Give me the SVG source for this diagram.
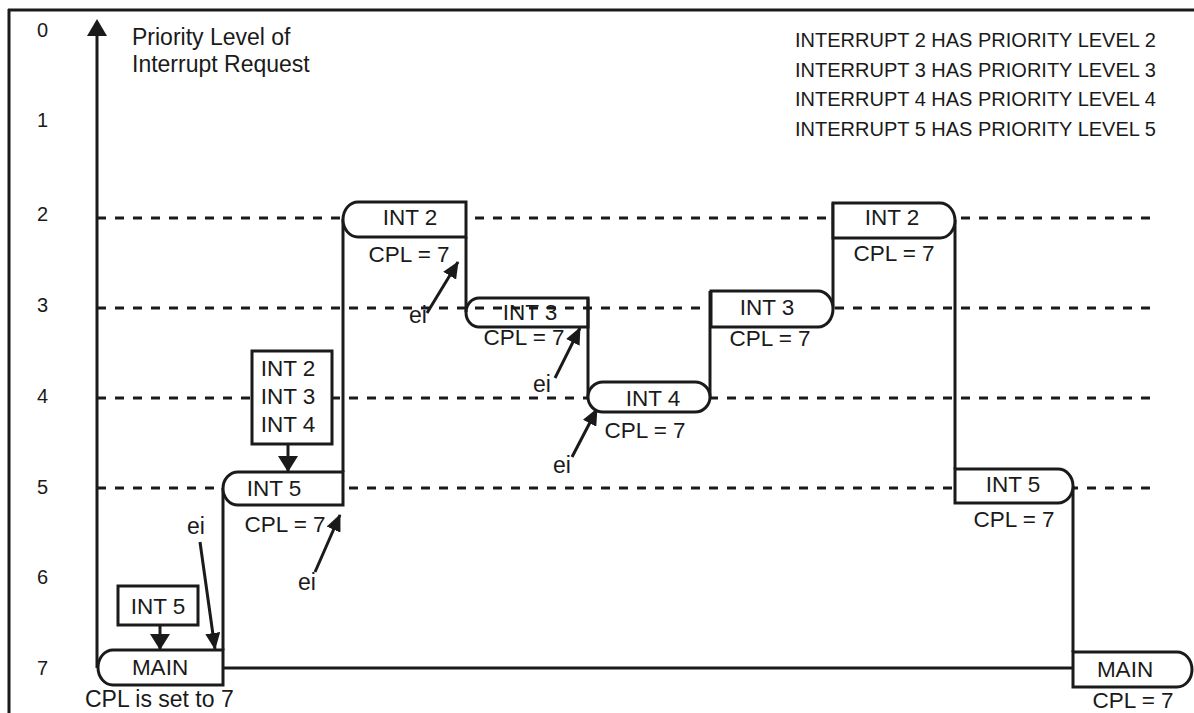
<svg xmlns="http://www.w3.org/2000/svg" width="1194" height="713" viewBox="0 0 1194 713">
<style>
text{font-family:"Liberation Sans",Arial,sans-serif;fill:#1a1a1a}
.t{font-size:23px}
.c{font-size:22.5px;text-anchor:middle}
.lv{font-size:20px}
.lg{font-size:20px}
.box{fill:#fff;stroke:#1a1a1a;stroke-width:3}
.nofill{fill:none;stroke:#1a1a1a;stroke-width:3}
.ln{stroke:#1a1a1a;stroke-width:3;fill:none}
.dash{stroke:#1a1a1a;stroke-width:3;stroke-dasharray:9 9;fill:none}
.arr{stroke:#1a1a1a;stroke-width:3;fill:none}
</style>
<defs>
<marker id="ah" viewBox="0 0 16 20" refX="15" refY="10" markerWidth="16" markerHeight="20" markerUnits="userSpaceOnUse" orient="auto">
<path d="M0,0 L16,10 L0,20 Z" fill="#1a1a1a"/>
</marker>
<marker id="ahs" viewBox="0 0 17 15" refX="16" refY="7.5" markerWidth="17" markerHeight="15" markerUnits="userSpaceOnUse" orient="auto">
<path d="M0,0 L17,7.5 L0,15 Z" fill="#1a1a1a"/>
</marker>
</defs>

<g id="frame">
<line class="ln" x1="8" y1="10" x2="1194" y2="10"/>
<line class="ln" x1="9" y1="9" x2="9" y2="713"/>
</g>

<g id="axis">
<line class="ln" x1="97" y1="34" x2="97" y2="668"/>
<polygon points="97,19 87,36 107,36" fill="#1a1a1a"/>
<text class="t" x="132" y="45">Priority Level of</text>
<text class="t" x="132" y="72">Interrupt Request</text>
<text class="lv" x="37" y="37">0</text>
<text class="lv" x="37" y="127">1</text>
<text class="lv" x="37" y="221">2</text>
<text class="lv" x="37" y="312">3</text>
<text class="lv" x="37" y="403">4</text>
<text class="lv" x="37" y="494">5</text>
<text class="lv" x="37" y="584">6</text>
<text class="lv" x="37" y="675">7</text>
</g>

<g id="legend">
<text class="lg" x="795" y="47">INTERRUPT 2 HAS PRIORITY LEVEL 2</text>
<text class="lg" x="795" y="77">INTERRUPT 3 HAS PRIORITY LEVEL 3</text>
<text class="lg" x="795" y="106">INTERRUPT 4 HAS PRIORITY LEVEL 4</text>
<text class="lg" x="795" y="136">INTERRUPT 5 HAS PRIORITY LEVEL 5</text>
</g>

<g id="levels">
<line class="dash" x1="97" y1="218" x2="1152" y2="218"/>
<line class="dash" x1="97" y1="308" x2="1152" y2="308"/>
<line class="dash" x1="97" y1="398" x2="1152" y2="398"/>
<line class="dash" x1="97" y1="488" x2="1152" y2="488"/>
</g>

<g id="connectors">
<line class="ln" x1="223" y1="668" x2="1073" y2="668"/>
<line class="ln" x1="223" y1="650" x2="223" y2="488"/>
<line class="ln" x1="343" y1="472" x2="343" y2="219"/>
<line class="ln" x1="466" y1="237" x2="466" y2="312"/>
<line class="ln" x1="588" y1="298" x2="588" y2="397"/>
<line class="ln" x1="710" y1="397" x2="710" y2="291"/>
<line class="ln" x1="833" y1="309" x2="833" y2="203"/>
<line class="ln" x1="955" y1="220" x2="955" y2="469"/>
<line class="ln" x1="1073" y1="486" x2="1073" y2="652"/>
<line class="arr" x1="160" y1="625" x2="160" y2="649" marker-end="url(#ah)"/>
<line class="arr" x1="288" y1="444" x2="288" y2="471" marker-end="url(#ah)"/>
<line class="arr" x1="200" y1="542" x2="215" y2="649" marker-end="url(#ahs)"/>
<line class="arr" x1="315" y1="572" x2="340" y2="515" marker-end="url(#ahs)"/>
<line class="arr" x1="427" y1="313" x2="458" y2="262" marker-end="url(#ahs)"/>
<line class="arr" x1="555" y1="378" x2="580" y2="328" marker-end="url(#ahs)"/>
<line class="arr" x1="572" y1="457" x2="597" y2="409" marker-end="url(#ahs)"/>
</g>

<g id="main-left">
<path class="box" d="M113,650 H223 V685 H113 A15 17.5 0 0 1 98,667.5 A15 17.5 0 0 1 113,650 Z"/>
<text class="c" x="160" y="675">MAIN</text>
<text class="t" x="85" y="707">CPL is set to 7</text>
</g>

<g id="int5-pending">
<rect class="box" x="118" y="586" width="80" height="39"/>
<text class="c" x="158" y="614">INT 5</text>
</g>

<g id="int5-left">
<path class="box" d="M238,472 H343 V505 H238 A15 16.5 0 0 1 223,488.5 A15 16.5 0 0 1 238,472 Z"/>
<text class="c" x="274" y="496">INT 5</text>
<text class="c" x="285" y="532">CPL = 7</text>
</g>

<g id="int234-pending">
<rect class="box" x="252" y="351" width="80" height="93"/>
<text class="c" x="288" y="376">INT 2</text>
<text class="c" x="288" y="404">INT 3</text>
<text class="c" x="288" y="432">INT 4</text>
</g>

<g id="int2-left">
<path class="box" d="M358,202 H466 V237 H358 A15 17.5 0 0 1 343,219.5 A15 17.5 0 0 1 358,202 Z"/>
<text class="c" x="410" y="225">INT 2</text>
<text class="c" x="409" y="262">CPL = 7</text>
</g>

<g id="int3-left">
<path class="nofill" d="M479,298 H588 V327 H479 A13 14.5 0 0 1 466,312.5 A13 14.5 0 0 1 479,298 Z"/>
<text class="c" x="530" y="320">INT 3</text>
<text class="c" x="524" y="345">CPL = 7</text>
</g>

<g id="int4">
<path class="box" d="M603,382 H695 A15 15 0 0 1 710,397 A15 15 0 0 1 695,412 H603 A15 15 0 0 1 588,397 A15 15 0 0 1 603,382 Z"/>
<text class="c" x="653" y="406">INT 4</text>
<text class="c" x="645" y="438">CPL = 7</text>
</g>

<g id="int3-right">
<path class="box" d="M711,291 H818 A15 18 0 0 1 833,309 A15 18 0 0 1 818,327 H711 Z"/>
<text class="c" x="767" y="315">INT 3</text>
<text class="c" x="770" y="346">CPL = 7</text>
</g>

<g id="int2-right">
<path class="box" d="M833,203 H940 A15 17.5 0 0 1 955,220.5 A15 17.5 0 0 1 940,238 H833 Z"/>
<text class="c" x="892" y="225">INT 2</text>
<text class="c" x="894" y="261">CPL = 7</text>
</g>

<g id="int5-right">
<path class="box" d="M955,469 H1058 A15 17 0 0 1 1073,486 A15 17 0 0 1 1058,503 H955 Z"/>
<text class="c" x="1013" y="492">INT 5</text>
<text class="c" x="1014" y="527">CPL = 7</text>
</g>

<g id="main-right">
<path class="box" d="M1073,652 H1177 A15 17.5 0 0 1 1192,669.5 A15 17.5 0 0 1 1177,687 H1073 Z"/>
<text class="c" x="1125" y="677">MAIN</text>
<text class="c" x="1133" y="708">CPL = 7</text>
</g>

<g id="ei-labels">
<text class="t" x="187" y="534">ei</text>
<text class="t" x="298" y="590">ei</text>
<text class="t" x="409" y="323">ei</text>
<text class="t" x="533" y="392">ei</text>
<text class="t" x="553" y="473">ei</text>
</g>
</svg>
